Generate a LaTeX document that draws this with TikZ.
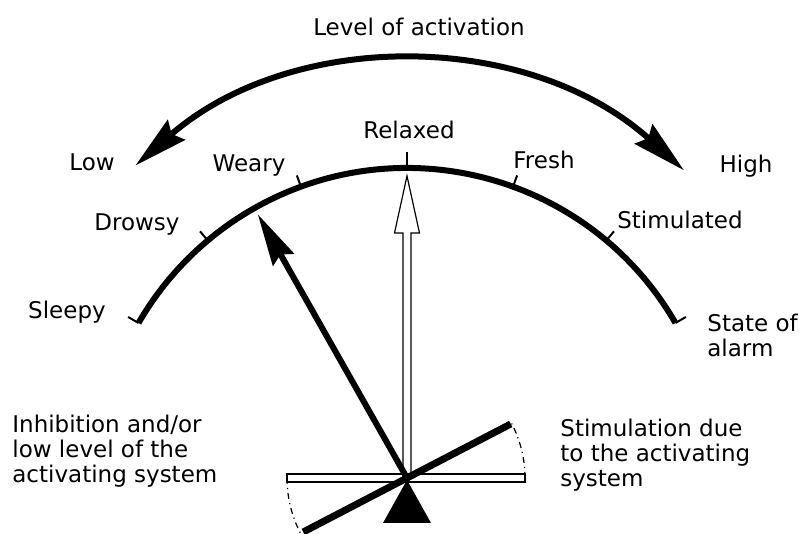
\documentclass[tikz,border=0pt]{standalone}
\usepackage{fontspec}
\setmainfont{DejaVu Sans}
\usetikzlibrary{positioning,arrows.meta}

\begin{document}
\begin{tikzpicture}[
    x=0.5pt, y=0.5pt,
    font=\fontsize{11.5}{12.5}\selectfont,
    lbl/.style={inner sep=0pt},
    txt/.style={lbl, align=left, anchor=west},
    scl/.style={line width=3pt},
    tk/.style={line width=1pt},
    fine/.style={line width=0.6pt},
    hd/.tip={Stealth[length=27pt, width=13pt, inset=3pt]},
    fl/.style={-{Stealth[length=26pt, width=12pt, inset=3pt]}, line width=3pt},
]
    \useasboundingbox (-407,-56) rectangle (393,478);
    \coordinate (piv) at (0,0);
    \coordinate (hr) at (90:302);
    \coordinate (nd) at (119.5:303);
    % scale and ticks
    \draw[scl] (30:310) arc[start angle=30, end angle=150, radius=310];
    \foreach \a in {30,50,70,110,130,150}
        \draw[tk] (\a:310) -- (\a:322);
    \draw[tk] (90:310) -- (90:326);
    % level of activation
    \draw[scl, hd-hd] (131:414) arc[start angle=131, end angle=48, radius=414];
    % rest position
    \draw[fine, fill=white] (-4,0) -- (-4,245) -- (-12.5,245) -- (hr) -- (12.5,245) -- (4,245) -- (4,0);
    % balance
    \draw[fine] (-120,-4) rectangle (118,4);
    \draw[fine, dash dot] (0:118) arc[start angle=0, end angle=27.5, radius=118];
    \draw[fine, dash dot] (180:120) arc[start angle=180, end angle=207.5, radius=120];
    \draw[line width=3.5pt] (207.5:117) -- (27.5:117);
    \fill (0,-2) -- (24,-45) -- (-24,-45) -- cycle;
    \draw[fl] (piv) -- (nd);
    % labels
    \node[lbl] (lvl) at (12,451) {Level of activation};
    \node[lbl] (low) at (-315,316) {Low};
    \node[lbl] (high) at (339,312) {High};
    \node[lbl] (rlx) at (2,348) {Relaxed};
    \node[lbl] (wry) at (-158,312) {Weary};
    \node[lbl] (frs) at (137,318) {Fresh};
    \node[lbl] (drw) at (-270,253) {Drowsy};
    \node[lbl] (stm) at (273,258) {Stimulated};
    \node[lbl] (slp) at (-340,166) {Sleepy};
    \node[txt] (alm) at (300,143) {State of\\alarm};
    \node[txt] (inh) at (-395,27) {Inhibition and/or\\low level of the\\activating system};
    \node[txt] (sts) at (153,23) {Stimulation due\\to the activating\\system};
\end{tikzpicture}
\end{document}
